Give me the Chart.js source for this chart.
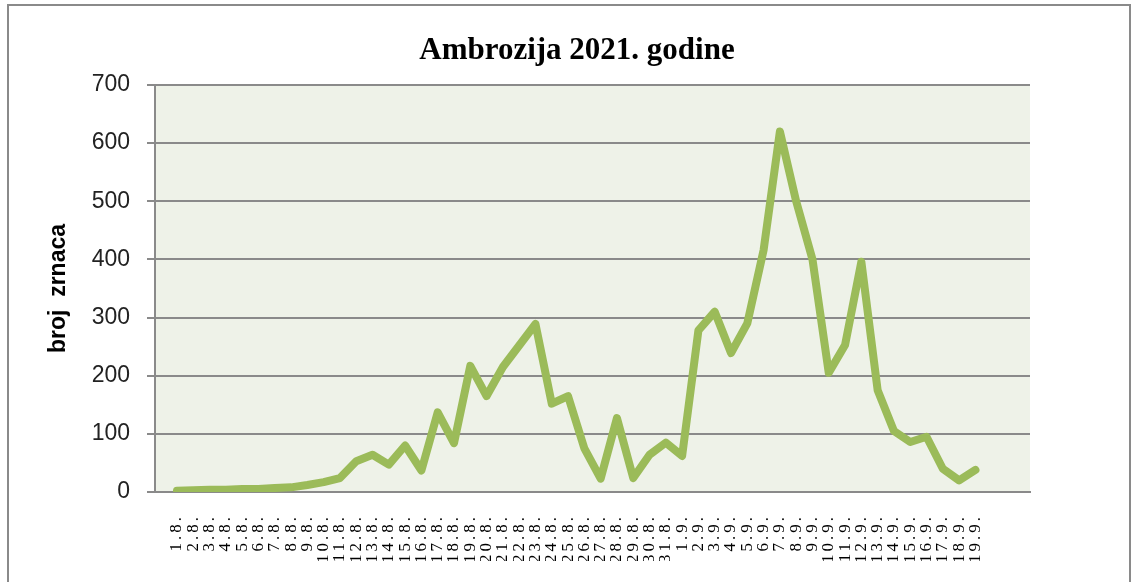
<!DOCTYPE html>
<html>
<head>
<meta charset="utf-8">
<title>Ambrozija 2021. godine</title>
<script src="https://cdn.jsdelivr.net/npm/chart.js@4.4.1/dist/chart.umd.min.js"></script>
<style>
  html, body { margin: 0; padding: 0; background: #fff; }
  body { width: 1136px; height: 582px; position: relative; overflow: hidden; }
  #frame { position: absolute; left: 7px; top: 4px; width: 1124px; height: 620px; border: 2px solid #8a8a8a; box-sizing: border-box; }
  #title { position: absolute; left: 0; top: 31px; width: 1154px; text-align: center;
           font: bold 31px "Liberation Serif", "Times New Roman", serif; color: #000; }
  #chart { position: absolute; left: 0; top: 0; }
</style>
</head>
<body>
<div id="frame"></div>
<canvas id="chart" width="1136" height="561"></canvas>
<div id="title">Ambrozija 2021. godine</div>
<script>
// daily counts, 1 Aug - 19 Sep
const days = [
  '1.8.', '2.8.', '3.8.', '4.8.', '5.8.', '6.8.', '7.8.', '8.8.', '9.8.', '10.8.',
  '11.8.', '12.8.', '13.8.', '14.8.', '15.8.', '16.8.', '17.8.', '18.8.', '19.8.', '20.8.',
  '21.8.', '22.8.', '23.8.', '24.8.', '25.8.', '26.8.', '27.8.', '28.8.', '29.8.', '30.8.',
  '31.8.', '1.9.', '2.9.', '3.9.', '4.9.', '5.9.', '6.9.', '7.9.', '8.9.', '9.9.',
  '10.9.', '11.9.', '12.9.', '13.9.', '14.9.', '15.9.', '16.9.', '17.9.', '18.9.', '19.9.'
];
const counts = [
  2, 3, 4, 4, 5, 5, 7, 8, 12, 17,
  24, 53, 64, 47, 80, 37, 137, 84, 217, 165,
  215, 252, 289, 152, 165, 75, 23, 127, 24, 64,
  85, 62, 278, 310, 239, 290, 416, 620, 500, 400,
  205, 253, 396, 175, 105, 86, 95, 40, 20, 38
];
const yTicks = [0, 100, 200, 300, 400, 500, 600, 700];

const gridGray = '#8a8a8a';

// light fill behind the plot
const plotBg = {
  id: 'plotBg',
  beforeDraw(chart) {
    const { ctx, chartArea: a } = chart;
    ctx.save();
    ctx.fillStyle = '#eef2e8';
    ctx.fillRect(a.left, a.top, a.right - a.left, a.bottom - a.top);
    ctx.restore();
  }
};

// x labels are drawn last (ticks.z = 1), spread out a little
const spacedLabels = {
  id: 'spacedLabels',
  afterDatasetsDraw(chart) { chart.ctx.letterSpacing = '3px'; },
  afterDraw(chart) { chart.ctx.letterSpacing = '0px'; }
};

new Chart(document.getElementById('chart'), {
  type: 'line',
  data: {
    datasets: [{
      data: counts.map((v, i) => ({ x: i, y: v })),
      borderColor: '#9bbb59',
      borderWidth: 8,
      borderJoinStyle: 'round',
      borderCapStyle: 'round',
      pointRadius: 0,
      tension: 0,
      fill: false
    }]
  },
  options: {
    responsive: false,
    animation: false,
    layout: { padding: { left: 41, right: 106, top: 85, bottom: 0 } },
    plugins: {
      legend: { display: false },
      tooltip: { enabled: false }
    },
    scales: {
      x: {
        type: 'linear',
        min: -1.35,
        max: 52.35,
        afterBuildTicks: s => { s.ticks = days.map((d, i) => ({ value: i })); },
        afterFit: s => { s.height = 69; },
        grid: { display: false },
        border: { display: true, color: gridGray, width: 2 },
        ticks: {
          z: 1,
          autoSkip: false,
          minRotation: 90,
          maxRotation: 90,
          padding: 14,
          color: '#000',
          font: { family: '"Liberation Serif", "Times New Roman", serif', size: 17 },
          callback: v => days[v] ?? ''
        }
      },
      y: {
        min: 0,
        max: 700,
        afterBuildTicks: s => { s.ticks = yTicks.map(v => ({ value: v })); },
        afterFit: s => { s.width = 114; },
        grid: { color: gridGray, lineWidth: 2, tickLength: 8 },
        border: { color: gridGray, width: 2 },
        ticks: {
          padding: 17,
          color: '#222',
          font: { family: '"Liberation Sans", Arial, sans-serif', size: 23 }
        },
        title: {
          display: true,
          text: 'broj  zrnaca',
          color: '#000',
          padding: { top: 4, bottom: 0 },
          font: { family: '"Liberation Sans", Arial, sans-serif', size: 23, weight: 'bold' }
        }
      }
    }
  },
  plugins: [plotBg, spacedLabels]
});
</script>
</body>
</html>
